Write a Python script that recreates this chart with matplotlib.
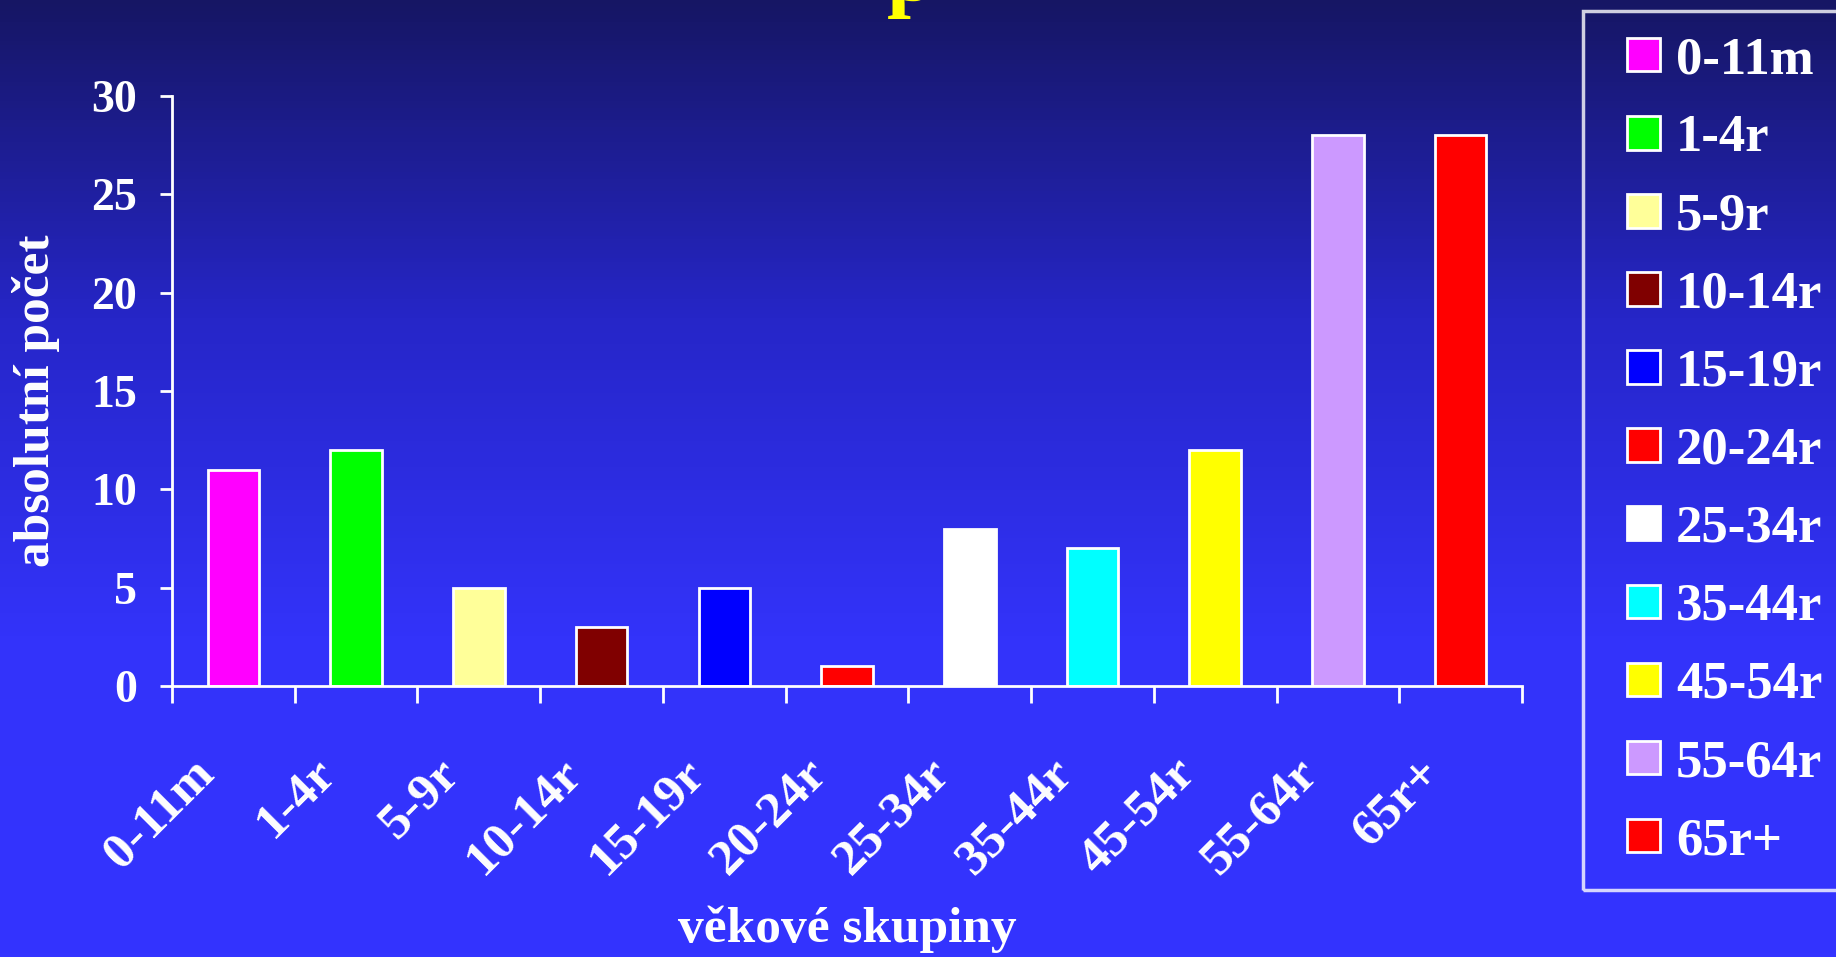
import numpy as np
import matplotlib
matplotlib.use('Agg')
import matplotlib.pyplot as plt
from matplotlib.patches import Patch, Rectangle
from matplotlib.colors import LinearSegmentedColormap
from matplotlib.transforms import ScaledTranslation, blended_transform_factory
from matplotlib.legend_handler import HandlerPatch

plt.rcParams['font.family'] = ['Liberation Serif', 'DejaVu Serif']
plt.rcParams['font.weight'] = 'bold'

# data
categories = ['0-11m', '1-4r', '5-9r', '10-14r', '15-19r', '20-24r',
              '25-34r', '35-44r', '45-54r', '55-64r', '65r+']
values = [11, 12, 5, 3, 5, 1, 8, 7, 12, 28, 28]
colors = ['#FF00FF', '#00FF00', '#FFFF99', '#800000', '#0000FF', '#FF0000',
          '#FFFFFF', '#00FFFF', '#FFFF00', '#CC99FF', '#FF0000']
yticks = [0, 5, 10, 15, 20, 25, 30]

fig = plt.figure(figsize=(18.36, 9.57), dpi=100)

# gradient background
bg = fig.add_axes([0, 0, 1, 1], zorder=-10)
cmap = LinearSegmentedColormap.from_list('bg', ['#161664', '#2626C8', '#3333FA', '#3434FF'])
grad = np.linspace(0, 1, 256).reshape(-1, 1)
bg.imshow(grad, aspect='auto', cmap=cmap, extent=[0, 1, 0, 1], origin='upper')
bg.axis('off')

# clipped yellow title (only the descender shows in the reference)
fig.text(0.496, 1.0, 'p', color='#FFFF00', fontsize=62, ha='center', va='baseline')

ax = fig.add_axes([0.0937, 0.283, 0.829 - 0.0937, 0.900 - 0.283])
ax.set_facecolor('none')
x = np.arange(len(categories))
ax.bar(x, values, width=0.42, color=colors, edgecolor='white', linewidth=2)

ax.set_xlim(-0.5, len(categories) - 0.5)
ax.set_ylim(0, 30)
ax.set_yticks(yticks)
ax.set_xticks(np.arange(-0.5, len(categories), 1.0))
ax.set_xticklabels([])
ax.tick_params(axis='x', which='major', length=12, width=2, color='white', direction='out')
ax.tick_params(axis='y', length=9, width=2, color='white', pad=16, labelsize=33,
               labelcolor='white')

# category labels, rotated, under each bar
trans = blended_transform_factory(ax.transData, ax.transAxes) + \
    ScaledTranslation(-0.43, -0.64, fig.dpi_scale_trans)
for xi, lab in zip(x, categories):
    ax.text(xi, 0, lab, transform=trans, rotation=45, ha='right', va='top',
            rotation_mode='anchor', fontsize=37, color='white', clip_on=False)

for s in ['top', 'right']:
    ax.spines[s].set_visible(False)
for s in ['left', 'bottom']:
    ax.spines[s].set_color('white')
    ax.spines[s].set_linewidth(2)

ax.set_ylabel('absolutní počet', color='white', fontsize=37, fontweight='bold')
ax.yaxis.set_label_coords(-0.083, 0.484)
ax.set_xlabel('věkové skupiny', color='white', fontsize=37, fontweight='bold')
ax.xaxis.set_label_coords(0.5, -0.372)


def square_patch(legend, orig_handle, xdescent, ydescent, width, height, fontsize):
    # small square at the right end of the handle box
    w = width * 0.62 / 0.99
    return Rectangle((-xdescent + width - w, -ydescent), w, height)


handles = [Patch(facecolor=c, edgecolor='white', linewidth=2) for c in colors]
leg = fig.legend(handles, categories, loc='upper left', bbox_to_anchor=(0.862, 0.988),
                 borderaxespad=0, fontsize=38, frameon=True, handlelength=0.99,
                 handleheight=0.6, handletextpad=0.31, labelspacing=0.57,
                 borderpad=0.47, fancybox=False,
                 handler_map={Patch: HandlerPatch(patch_func=square_patch)})
leg.get_frame().set_facecolor('none')
leg.get_frame().set_edgecolor('white')
leg.get_frame().set_linewidth(2.5)
for t in leg.get_texts():
    t.set_color('white')

fig.savefig('out.png', dpi=100)
